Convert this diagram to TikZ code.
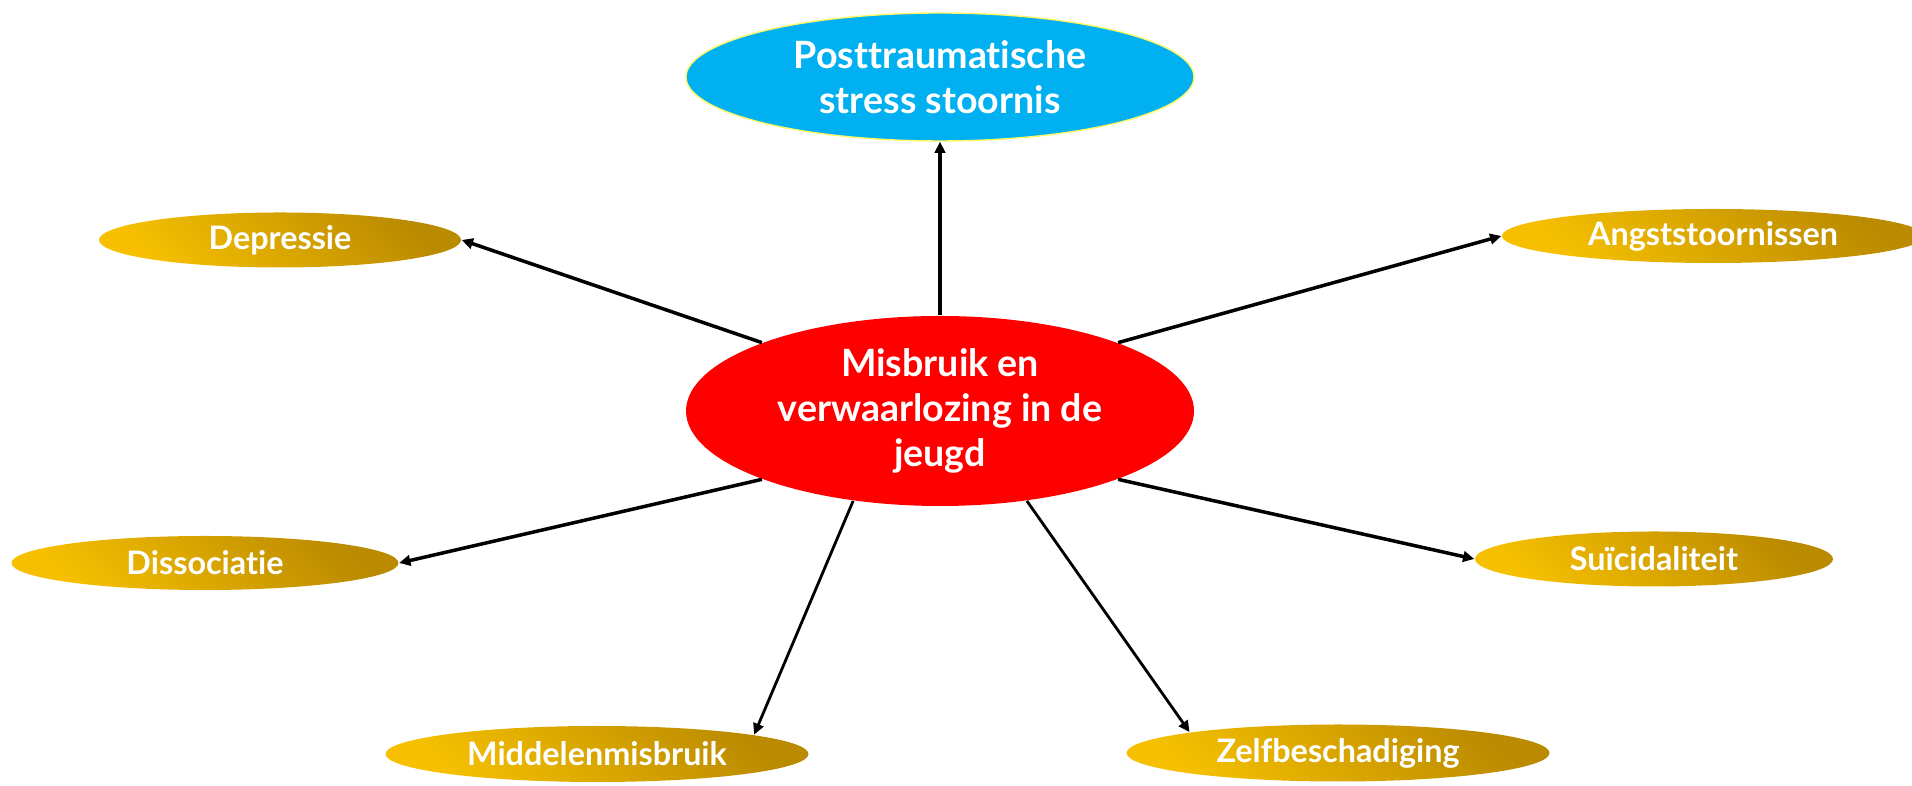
\documentclass[tikz,border=0pt]{standalone}
\usepackage{fontspec}
\setmainfont{Lato}[Ligatures={NoCommon}]
\usetikzlibrary{shapes.geometric, arrows.meta}
\definecolor{ptssblauw}{HTML}{00B0F0}
\definecolor{goudlicht}{HTML}{F6C000}
\definecolor{gouddonker}{HTML}{BA8A00}
\tikzset{
    kern/.style={ellipse, inner sep=0pt, text=white, align=center,
        font=\bfseries\fontsize{10.7}{12.8}\selectfont, minimum width=5.08cm},
    gevolg/.style={ellipse, inner sep=0pt, text=white,
        font=\bfseries\fontsize{9.2}{11}\selectfont,
        top color=gouddonker, bottom color=goudlicht, shading angle=-45},
    pijl/.style={-{Triangle[length=3.2pt,width=3pt]}, line width=1pt},
}

\begin{document}
\begin{tikzpicture}
    \useasboundingbox (0,0) rectangle (19.12,7.86);

    \node[kern, fill=red, minimum height=1.90cm] at (9.40,3.75) (M) {Misbruik en\\verwaarlozing in de\\jeugd};
    \node[kern, fill=ptssblauw, draw=yellow!60, line width=0.4pt, minimum height=1.28cm] at (9.40,7.09) (P) {Posttraumatische\\stress stoornis};
    \node[gevolg, minimum width=3.62cm, minimum height=0.55cm] at (2.80,5.46)  (D)  {Depressie};
    \node[gevolg, minimum width=4.22cm, minimum height=0.54cm] at (17.13,5.50) (A)  {Angststoornissen};
    \node[gevolg, minimum width=3.87cm, minimum height=0.54cm] at (2.05,2.23)  (Di) {Dissociatie};
    \node[gevolg, minimum width=3.58cm, minimum height=0.55cm] at (16.54,2.27) (S)  {Suïcidaliteit};
    \node[gevolg, minimum width=4.23cm, minimum height=0.56cm] at (5.97,0.32)  (Mm) {Middelenmisbruik};
    \node[gevolg, minimum width=4.23cm, minimum height=0.57cm] at (13.38,0.33) (Z)  {Zelfbeschadiging};

    \draw[pijl] (M.north) -- (P.south);
    \draw[pijl] (M.159) -- (D.east);
    \draw[pijl] (M.21) -- (A.west);
    \draw[pijl] (M.201) -- (Di.east);
    \draw[pijl] (M.339) -- (S.west);
    \draw[pijl, line width=0.8pt] (M.226) -- (Mm.7.6);
    \draw[pijl, line width=0.8pt] (M.314) -- (Z.172.5);
\end{tikzpicture}
\end{document}
